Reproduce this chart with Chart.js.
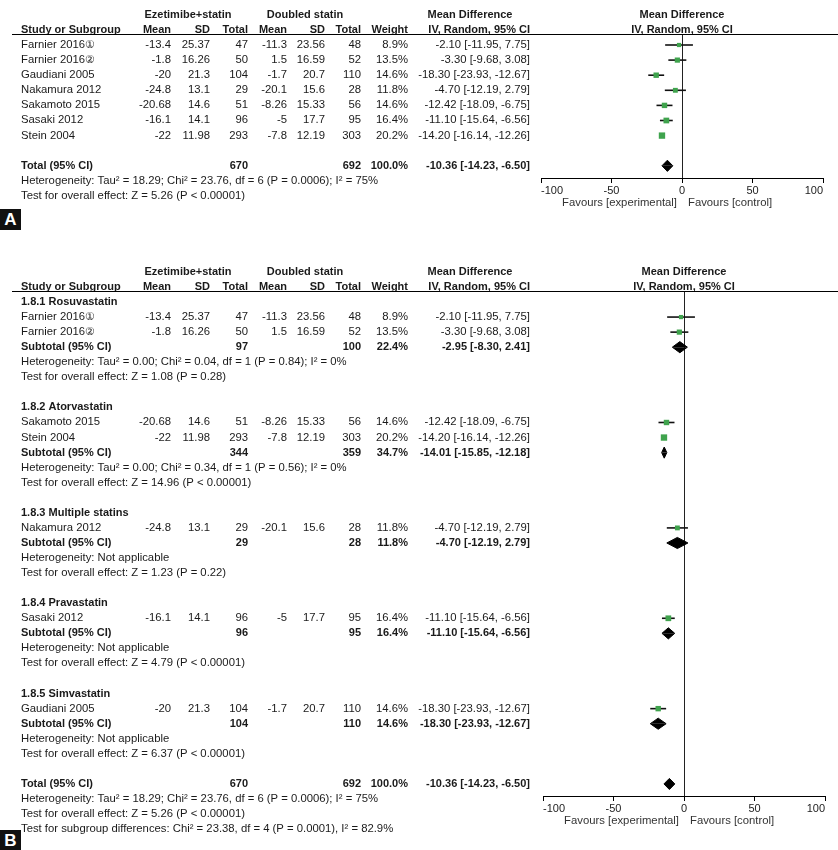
<!DOCTYPE html>
<html>
<head>
<meta charset="utf-8">
<title>Forest plot</title>
<script src="https://cdn.jsdelivr.net/npm/chart.js@4.4.1/dist/chart.umd.min.js"></script>
<style>
body{margin:0;background:#fff}
canvas{position:absolute;left:0}
#chartA{top:0}
#chartB{top:240px}
.tag{position:absolute;left:0;width:21px;height:21px;background:#111;color:#fff;
font:bold 17px "Liberation Sans",Arial,sans-serif;text-align:center;line-height:22px}
</style>
</head>
<body>

<canvas id="chartA" width="838" height="240"></canvas>
<canvas id="chartB" width="838" height="610"></canvas>
<div class="tag" style="top:209px">A</div>
<div class="tag" style="top:830px">B</div>

<script>
/* ====================================
   DATA
==================================== */

// studies
const studyNames=["Farnier 2016①","Farnier 2016②","Gaudiani 2005","Nakamura 2012","Sakamoto 2015","Sasaki 2012","Stein 2004"]
const expMean=[-13.4,-1.8,-20,-24.8,-20.68,-16.1,-22]
const expSD=[25.37,16.26,21.3,13.1,14.6,14.1,11.98]
const expN=[47,50,104,29,51,96,293]
const ctlMean=[-11.3,1.5,-1.7,-20.1,-8.26,-5,-7.8]
const ctlSD=[23.56,16.59,20.7,15.6,15.33,17.7,12.19]
const ctlN=[48,52,110,28,56,95,303]
const weight=[8.9,13.5,14.6,11.8,14.6,16.4,20.2]
const md=[-2.10,-3.30,-18.30,-4.70,-12.42,-11.10,-14.20]
const ciLow=[-11.95,-9.68,-23.93,-12.19,-18.09,-15.64,-16.14]
const ciHigh=[7.75,3.08,-12.67,2.79,-6.75,-6.56,-12.26]

// subgroups (panel B)
const groupNames=["1.8.1 Rosuvastatin","1.8.2 Atorvastatin","1.8.3 Multiple statins","1.8.4 Pravastatin","1.8.5 Simvastatin"]
const groupStudies=[[0,1],[4,6],[3],[5],[2]]
const groupExpN=[97,344,29,96,104]
const groupCtlN=[100,359,28,95,110]
const groupWeight=[22.4,34.7,11.8,16.4,14.6]
const groupMD=[-2.95,-14.01,-4.70,-11.10,-18.30]
const groupLow=[-8.30,-15.85,-12.19,-15.64,-23.93]
const groupHigh=[2.41,-12.18,2.79,-6.56,-12.67]
const groupHet=["Heterogeneity: Tau² = 0.00; Chi² = 0.04, df = 1 (P = 0.84); I² = 0%",
"Heterogeneity: Tau² = 0.00; Chi² = 0.34, df = 1 (P = 0.56); I² = 0%",
"Heterogeneity: Not applicable","Heterogeneity: Not applicable","Heterogeneity: Not applicable"]
const groupTest=["Test for overall effect: Z = 1.08 (P = 0.28)","Test for overall effect: Z = 14.96 (P < 0.00001)",
"Test for overall effect: Z = 1.23 (P = 0.22)","Test for overall effect: Z = 4.79 (P < 0.00001)",
"Test for overall effect: Z = 6.37 (P < 0.00001)"]

// overall
const totalExpN=670
const totalCtlN=692
const totalMD=-10.36
const totalLow=-14.23
const totalHigh=-6.50
const totalHet="Heterogeneity: Tau² = 18.29; Chi² = 23.76, df = 6 (P = 0.0006); I² = 75%"
const totalTest="Test for overall effect: Z = 5.26 (P < 0.00001)"
const subgroupTest="Test for subgroup differences: Chi² = 23.38, df = 4 (P = 0.0001), I² = 82.9%"

// axis
const xTicks=[-100,-50,0,50,100]
const colHeaders=["Mean","SD","Total","Mean","SD","Total","Weight","IV, Random, 95% CI"]


/* ====================================
   STYLE / LAYOUT
==================================== */

const FONT='"Liberation Sans", Arial, sans-serif'
const TEXT="#1a1a1a"
const GREEN="#3fa34d"
const colName=21
const colRight=[171,210,248,287,325,361,408,530]
const DH=0.37 // diamond half height in rows


/* ====================================
   TEXT ROW HELPERS
==================================== */

function ciText(m,l,h){
return m.toFixed(2)+" ["+l.toFixed(2)+", "+h.toFixed(2)+"]"
}

function headerLines(){
const out=[
{text:"Ezetimibe+statin",x:188,row:-2,align:"center",bold:true},
{text:"Doubled statin",x:305,row:-2,align:"center",bold:true},
{text:"Mean Difference",x:470,row:-2,align:"center",bold:true},
{text:"Mean Difference",x:"zero",row:-2,align:"center",bold:true},
{text:"Study or Subgroup",x:colName,row:-1,align:"left",bold:true},
{text:"IV, Random, 95% CI",x:"zero",row:-1,align:"center",bold:true}
]
colHeaders.forEach((h,k)=>out.push({text:h,x:colRight[k],row:-1,align:"right",bold:true}))
return out
}

function studyLines(i,row){
const vals=[expMean[i],expSD[i],expN[i],ctlMean[i],ctlSD[i],ctlN[i],weight[i].toFixed(1)+"%",ciText(md[i],ciLow[i],ciHigh[i])]
const out=[{text:studyNames[i],x:colName,row,align:"left"}]
vals.forEach((v,k)=>out.push({text:String(v),x:colRight[k],row,align:"right"}))
return out
}

function summaryLines(label,nE,nC,w,m,l,h,row){
return [
{text:label,x:colName,row,align:"left",bold:true},
{text:String(nE),x:colRight[2],row,align:"right",bold:true},
{text:String(nC),x:colRight[5],row,align:"right",bold:true},
{text:w.toFixed(1)+"%",x:colRight[6],row,align:"right",bold:true},
{text:ciText(m,l,h),x:colRight[7],row,align:"right",bold:true}
]
}

function noteLine(text,row){
return {text,x:colName,row,align:"left"}
}


/* ====================================
   TABLE TEXT PLUGIN
==================================== */

function tablePlugin(lines){
return {
id:"table",
afterDraw(chart){
const ctx=chart.ctx
const xs=chart.scales.x
const ys=chart.scales.y
const area=chart.chartArea
const x0=xs.getPixelForValue(0)
ctx.save()
ctx.textBaseline="middle"
ctx.fillStyle=TEXT
lines.forEach(l=>{
ctx.font=l.bold?("bold 11px "+FONT):("11.3px "+FONT)
ctx.textAlign=l.align
ctx.fillText(l.text,l.x==="zero"?x0:l.x,Math.round(ys.getPixelForValue(l.row)))
})
// header underline
ctx.strokeStyle="#000"
ctx.lineWidth=1
ctx.beginPath()
ctx.moveTo(12,Math.round(area.top)-0.5)
ctx.lineTo(838,Math.round(area.top)-0.5)
ctx.stroke()
// favours labels
ctx.font="11.3px "+FONT
ctx.fillStyle="#333"
ctx.textAlign="right"
ctx.fillText("Favours [experimental]",x0-5,area.bottom+25)
ctx.textAlign="left"
ctx.fillText("Favours [control]",x0+6,area.bottom+25)
ctx.restore()
}
}
}


/* ====================================
   FOREST DATASETS
==================================== */

function forestDatasets(studyRows,diamonds){
const ds=[]
// green squares
ds.push({
data:studyRows.map(s=>({x:md[s.i],y:s.row})),
pointStyle:"rect",
pointRadius:studyRows.map(s=>1.0*Math.sqrt(weight[s.i])),
backgroundColor:GREEN,
borderColor:GREEN,
borderWidth:0,
order:0
})
// confidence intervals
studyRows.forEach(s=>{
ds.push({
data:[{x:ciLow[s.i],y:s.row},{x:ciHigh[s.i],y:s.row}],
showLine:true,
borderColor:"#111",
borderWidth:1.6,
pointRadius:0,
order:2
})
})
// diamonds (upper and lower halves)
diamonds.forEach(d=>{
[-DH,DH].forEach(off=>{
ds.push({
data:[{x:d.lo,y:d.row},{x:d.m,y:d.row+off},{x:d.hi,y:d.row}],
showLine:true,
fill:{value:d.row},
backgroundColor:"#000",
borderColor:"#000",
borderWidth:1,
pointRadius:0,
order:1
})
})
})
return ds
}

function makeChart(id,datasets,lines,yMin,yMax,axisHeight,padLeft,padRight,padTop){
return new Chart(document.getElementById(id),{
type:"scatter",
data:{datasets:datasets},
options:{
responsive:false,
animation:false,
events:[],
layout:{padding:{left:padLeft,right:padRight,top:padTop,bottom:0}},
plugins:{legend:{display:false},tooltip:{enabled:false}},
scales:{
x:{
type:"linear",
min:-100,
max:100,
afterBuildTicks:s=>{s.ticks=xTicks.map(v=>({value:v}))},
afterFit:s=>{s.height=axisHeight},
border:{display:true,color:"#000",width:1},
grid:{
color:c=>(c.tick&&c.tick.value===0)?"#222":"rgba(0,0,0,0)",
tickColor:"#000",
tickLength:5,
lineWidth:1
},
ticks:{
align:"inner",
autoSkip:false,
maxRotation:0,
padding:1,
color:"#222",
font:{family:FONT,size:11}
}
},
y:{
type:"linear",
reverse:true,
min:yMin,
max:yMax,
display:false
}
}
},
plugins:[tablePlugin(lines)]
})
}


/* ====================================
   PANEL A
==================================== */

const rowsA=studyNames.map((n,i)=>({i,row:i}))
let linesA=headerLines()
rowsA.forEach(s=>{linesA=linesA.concat(studyLines(s.i,s.row))})
linesA=linesA.concat(summaryLines("Total (95% CI)",totalExpN,totalCtlN,100,totalMD,totalLow,totalHigh,8))
linesA.push(noteLine(totalHet,9))
linesA.push(noteLine(totalTest,10))

makeChart("chartA",
forestDatasets(rowsA,[{m:totalMD,lo:totalLow,hi:totalHigh,row:8}]),
linesA,-0.662,8.808,62,541,15,35)


/* ====================================
   PANEL B
==================================== */

let linesB=headerLines()
const rowsB=[]
const diamondsB=[]
let r=0
groupNames.forEach((g,k)=>{
linesB.push({text:g,x:colName,row:r,align:"left",bold:true})
r++
groupStudies[k].forEach(i=>{
rowsB.push({i,row:r})
linesB=linesB.concat(studyLines(i,r))
r++
})
linesB=linesB.concat(summaryLines("Subtotal (95% CI)",groupExpN[k],groupCtlN[k],groupWeight[k],groupMD[k],groupLow[k],groupHigh[k],r))
diamondsB.push({m:groupMD[k],lo:groupLow[k],hi:groupHigh[k],row:r})
r++
linesB.push(noteLine(groupHet[k],r++))
linesB.push(noteLine(groupTest[k],r++))
r++
})
linesB=linesB.concat(summaryLines("Total (95% CI)",totalExpN,totalCtlN,100,totalMD,totalLow,totalHigh,r))
diamondsB.push({m:totalMD,lo:totalLow,hi:totalHigh,row:r})
linesB.push(noteLine(totalHet,r+1))
linesB.push(noteLine(totalTest,r+2))
linesB.push(noteLine(subgroupTest,r+3))

makeChart("chartB",
forestDatasets(rowsB,diamondsB),
linesB,-0.664,32.80,54,543,13,52)
</script>
</body>
</html>
